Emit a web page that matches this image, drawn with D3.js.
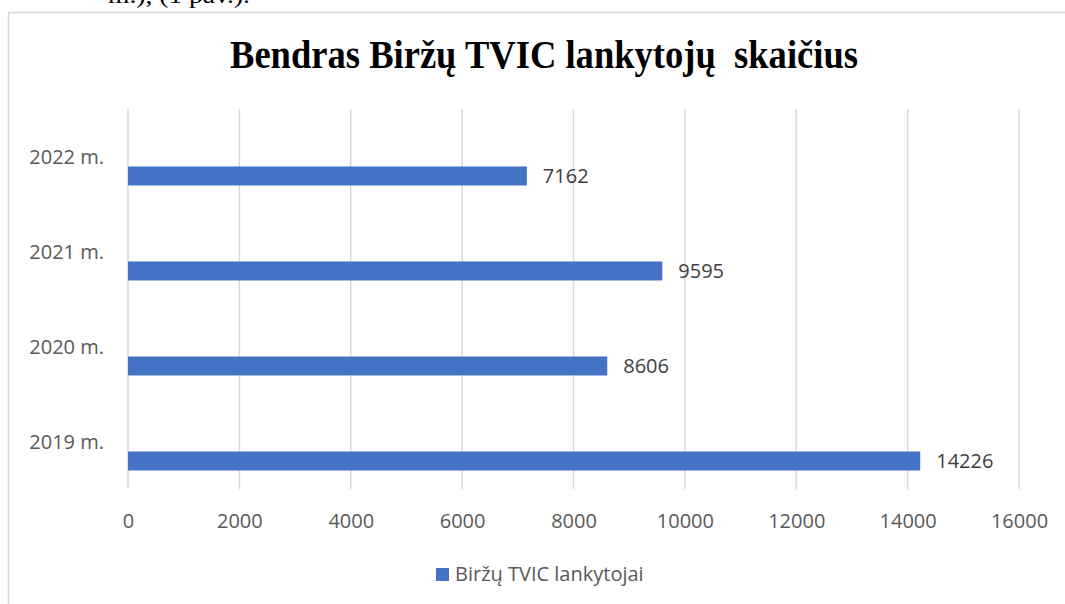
<!DOCTYPE html>
<html>
<head>
<meta charset="utf-8">
<script src="https://cdn.jsdelivr.net/npm/d3@7"></script>
<style>
  html, body { margin: 0; padding: 0; background: #fff; }
  svg { display: block; }
</style>
</head>
<body>
<svg id="chart" width="1065" height="604"></svg>
<script>
const categories = ["2022 m.", "2021 m.", "2020 m.", "2019 m."];
const values = [7162, 9595, 8606, 14226];
const xTicks = [0, 2000, 4000, 6000, 8000, 10000, 12000, 14000, 16000];
const titleText = "Bendras Biržų TVIC lankytojų  skaičius";
const seriesName = "Biržų TVIC lankytojai";

const svg = d3.select("#chart");
const barColor = "#4472c4";

// partial document text cut at the top
svg.append("text")
  .attr("x", 108).attr("y", 3)
  .attr("font-family", "Liberation Serif, Times New Roman, serif")
  .attr("font-size", 24).attr("fill", "#000")
  .attr("textLength", 142).attr("lengthAdjust", "spacingAndGlyphs")
  .text("m.), (1 pav.).");

// chart frame
svg.append("path")
  .attr("d", "M8.5,610 L8.5,12.5 L1070,12.5")
  .attr("fill", "none").attr("stroke", "#d9d9d9").attr("stroke-width", 1.5);

// title
svg.append("text")
  .attr("x", 544).attr("y", 68)
  .attr("text-anchor", "middle")
  .attr("font-family", "Liberation Serif, Times New Roman, serif")
  .attr("font-weight", "bold")
  .attr("font-size", 41)
  .attr("textLength", 628).attr("lengthAdjust", "spacingAndGlyphs")
  .attr("fill", "#000")
  .style("white-space", "pre")
  .text(titleText);

const x = d3.scaleLinear().domain([0, 16000]).range([128, 1019]);
const y = d3.scaleBand().domain(categories).range([109, 489]).padding(0);
const bw = y.bandwidth();

// gridlines
svg.append("g").selectAll("line").data(xTicks).join("line")
  .attr("x1", d => x(d)).attr("x2", d => x(d))
  .attr("y1", 109).attr("y2", 489)
  .attr("stroke", "#d9d9d9").attr("stroke-width", 1.5);

// x axis tick labels
const xAxis = d3.axisBottom(x).tickValues(xTicks).tickSize(0).tickPadding(0).tickFormat(d3.format("d"));
const gx = svg.append("g").attr("transform", "translate(0,514)").call(xAxis);
gx.select(".domain").remove();
gx.selectAll("text")
  .attr("dy", "0.71em")
  .attr("font-family", "Open Sans, sans-serif").attr("font-size", 20).attr("fill", "#595959");

// category labels
const yAxis = d3.axisLeft(y).tickSize(0).tickPadding(0);
const gy = svg.append("g").attr("transform", "translate(104,1)").call(yAxis);
gy.select(".domain").remove();
gy.selectAll("text")
  .attr("font-family", "Open Sans, sans-serif").attr("font-size", 20).attr("fill", "#595959");

// bars
svg.append("g").selectAll("rect").data(categories).join("rect")
  .attr("x", x(0))
  .attr("y", d => y(d) + bw * 0.605)
  .attr("width", (d, i) => x(values[i]) - x(0))
  .attr("height", bw * 0.2)
  .attr("fill", barColor);

// value labels
svg.append("g").selectAll("text").data(categories).join("text")
  .attr("x", (d, i) => x(values[i]) + 16)
  .attr("y", d => y(d) + bw * 0.705)
  .attr("dy", "0.36em")
  .attr("font-family", "Open Sans, sans-serif").attr("font-size", 20).attr("fill", "#404040")
  .text((d, i) => values[i]);

// legend
svg.append("rect").attr("x", 436).attr("y", 568).attr("width", 13).attr("height", 13).attr("fill", barColor);
svg.append("text").attr("x", 455).attr("y", 581)
  .attr("font-family", "Open Sans, sans-serif").attr("font-size", 20).attr("fill", "#595959")
  .text(seriesName);
</script>
</body>
</html>
